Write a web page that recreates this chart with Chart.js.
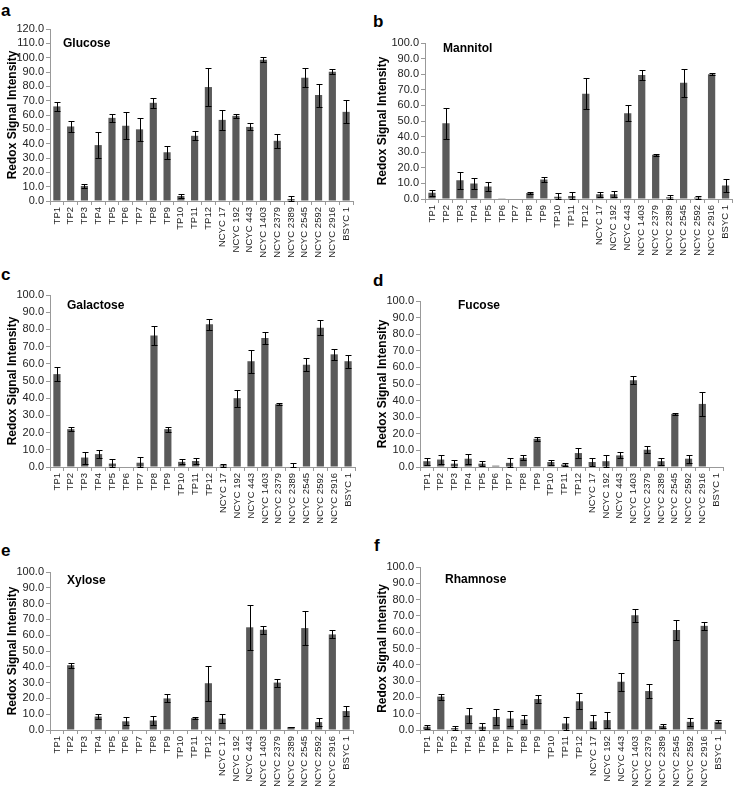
<!DOCTYPE html>
<html>
<head>
<meta charset="utf-8">
<script src="https://cdn.jsdelivr.net/npm/chart.js@4"></script>
<style>
  body { margin: 0; background: #fff; }
  #fig { position: relative; width: 739px; height: 788px; font-family: 'Liberation Sans', Arial, sans-serif; }
  .panel { position: absolute; }
  .letter { position: absolute; font-weight: bold; font-size: 17px; line-height: 17px; color: #000; }
</style>
</head>
<body>
<div id="fig">
  <div class="letter" style="left:1px;top:2px">a</div>
  <div class="letter" style="left:373px;top:13px">b</div>
  <div class="letter" style="left:1px;top:266px">c</div>
  <div class="letter" style="left:373px;top:272px">d</div>
  <div class="letter" style="left:1px;top:542px">e</div>
  <div class="letter" style="left:374px;top:537px">f</div>
  <div class="panel" style="left:0;top:0;width:362px;height:262px"><canvas id="glucoseChart"></canvas></div>
  <div class="panel" style="left:370px;top:0;width:369px;height:262px"><canvas id="mannitolChart"></canvas></div>
  <div class="panel" style="left:0;top:262px;width:362px;height:262px"><canvas id="galactoseChart"></canvas></div>
  <div class="panel" style="left:370px;top:262px;width:369px;height:262px"><canvas id="fucoseChart"></canvas></div>
  <div class="panel" style="left:0;top:524px;width:362px;height:264px"><canvas id="xyloseChart"></canvas></div>
  <div class="panel" style="left:370px;top:524px;width:369px;height:264px"><canvas id="rhamnoseChart"></canvas></div>
</div>
<script>
// strains on the x axis
const categories = ['TP1', 'TP2', 'TP3', 'TP4', 'TP5', 'TP6', 'TP7', 'TP8', 'TP9', 'TP10', 'TP11', 'TP12',
  'NCYC 17', 'NCYC 192', 'NCYC 443', 'NCYC 1403', 'NCYC 2379', 'NCYC 2389', 'NCYC 2545', 'NCYC 2592', 'NCYC 2916', 'BSYC 1'];

// redox signal intensity (mean) and error for each sugar
const glucose = [66, 52, 10.5, 39, 58, 52.5, 50, 68.5, 34, 3.5, 45.5, 79.5, 56.6, 59.4, 51.7, 98.6, 42, 1.4, 86, 73.9, 90.2, 62.2];
const glucoseErr = [3, 4, 1.5, 9, 3, 9.5, 8, 3.5, 4.5, 1.5, 3, 13, 7, 1.6, 2.5, 1.6, 5, 2, 6.5, 8, 1.6, 8];

const mannitol = [4, 48.5, 12, 10, 8, 0.5, 0, 3.8, 12.5, 1.5, 2, 67.5, 3, 3, 55, 79.5, 28.3, 1.2, 74.5, 1, 80, 8.7];
const mannitolErr = [2, 10, 5.5, 3.5, 3, 0, 0, 0.8, 1.5, 2.5, 2.5, 10, 1.5, 2, 5, 3, 0.5, 1.5, 9, 1, 0.8, 4];

const galactose = [54, 22, 5.5, 7.5, 2, 0, 2.5, 76.5, 22, 3, 3.5, 83, 1, 40, 61.5, 75, 36.5, 0.3, 59.5, 81, 65.5, 61.5];
const galactoseErr = [4, 1.2, 3.5, 2.5, 2.5, 0, 3.5, 5.5, 1.5, 1.5, 1.8, 3.3, 1, 5, 6.8, 3.5, 0.5, 1.8, 3.9, 4.5, 3, 3.7];

const fucose = [3.5, 4.5, 2, 5, 2, 0.8, 2.5, 5.5, 17, 3, 1.5, 8.4, 3, 3.5, 7, 52.2, 10.4, 3.5, 32, 5, 38, 0];
const fucoseErr = [2, 2.5, 2.5, 3, 1.5, 0, 3, 1.5, 1.2, 1.5, 1, 3, 2.5, 3.5, 1.8, 2.4, 2, 2, 0.4, 2.5, 7, 0];

const xylose = [0, 41, 0.3, 8.5, 0, 5.5, 0, 6, 20, 0.3, 7.5, 29.6, 7.2, 0, 65, 63.5, 30, 1.9, 64.5, 5, 60.5, 12];
const xyloseErr = [0, 1.5, 0, 1.5, 0, 2.5, 0, 3, 2.5, 0, 0.5, 11, 3, 0, 14.4, 2.5, 2.5, 0.2, 11, 2.5, 2.5, 3];

const rhamnose = [2, 20.5, 1.2, 9, 2, 8, 7, 6.5, 19, 0, 4, 17.6, 5.3, 6.1, 29.6, 70.4, 23.9, 2.5, 61.4, 5, 63.9, 5];
const rhamnoseErr = [1.2, 1.8, 1, 4.5, 2, 5, 4.5, 3, 2.5, 0, 4, 5, 4, 4.7, 5.5, 4, 4.3, 1, 6, 2.5, 2.5, 1];

Chart.defaults.font.family = "'Liberation Sans', Arial, sans-serif";
Chart.defaults.color = '#222';

// error bars drawn with the chart's own scales
const errorBars = {
  id: 'errorBars',
  afterDatasetsDraw(chart, args, opts) {
    const ctx = chart.ctx;
    const x = chart.scales.x, y = chart.scales.y;
    const vals = chart.data.datasets[0].data;
    ctx.save();
    ctx.strokeStyle = '#000';
    ctx.lineWidth = 1;
    opts.errors.forEach(function (e, i) {
      if (!e) return;
      const px = Math.round(x.getPixelForValue(i)) + 0.5;
      const top = Math.round(y.getPixelForValue(vals[i] + e)) + 0.5;
      const bot = Math.round(y.getPixelForValue(Math.max(vals[i] - e, 0))) + 0.5;
      ctx.beginPath();
      ctx.moveTo(px, top); ctx.lineTo(px, bot);
      ctx.moveTo(px - 3, top); ctx.lineTo(px + 3, top);
      ctx.moveTo(px - 3, bot); ctx.lineTo(px + 3, bot);
      ctx.stroke();
    });
    ctx.restore();
  }
};

// sugar name inside the plot area
const innerTitle = {
  id: 'innerTitle',
  afterDraw(chart, args, opts) {
    const ctx = chart.ctx;
    ctx.save();
    ctx.font = "bold 12px 'Liberation Sans', Arial, sans-serif";
    ctx.fillStyle = '#000';
    ctx.textBaseline = 'middle';
    ctx.fillText(opts.text, chart.chartArea.left + opts.dx, chart.chartArea.top + opts.dy);
    ctx.restore();
  }
};

function makePanel(id, name, values, errors, max, box) {
  return new Chart(document.getElementById(id), {
    type: 'bar',
    data: {
      labels: categories,
      datasets: [{
        data: values,
        backgroundColor: '#5a5a5a',
        borderWidth: 0,
        barPercentage: 0.52,
        categoryPercentage: 1
      }]
    },
    plugins: [errorBars, innerTitle],
    options: {
      responsive: true,
      maintainAspectRatio: false,
      animation: false,
      layout: { padding: { top: box.padTop, right: box.padRight, left: 0, bottom: 0 } },
      plugins: {
        legend: { display: false },
        tooltip: { enabled: false },
        errorBars: { errors: errors },
        innerTitle: { text: name, dx: box.dx, dy: box.dy }
      },
      scales: {
        x: {
          afterFit: function (s) { s.height = box.xHeight; },
          grid: { display: true, drawOnChartArea: false, offset: true, tickLength: 4, color: '#999' },
          border: { color: '#999' },
          ticks: { autoSkip: false, minRotation: 90, maxRotation: 90, padding: 2, font: { size: 9.5 }, color: '#222' }
        },
        y: {
          min: 0,
          max: max,
          afterFit: function (s) { s.width = box.yWidth; },
          grid: { display: true, drawOnChartArea: false, tickLength: 4, color: '#999' },
          border: { color: '#999' },
          ticks: {
            stepSize: 10,
            autoSkip: false,
            padding: 2,
            font: { size: 11 },
            color: '#222',
            callback: function (v) { return Number(v).toFixed(1); }
          },
          title: {
            display: true,
            text: 'Redox Signal Intensity',
            font: { size: 12, weight: 'bold' },
            color: '#000',
            padding: { top: 5, bottom: 0 }
          }
        }
      }
    }
  });
}

makePanel('glucoseChart', 'Glucose', glucose, glucoseErr, 120,
  { yWidth: 50, padTop: 29, padRight: 9, xHeight: 61, dx: 13, dy: 15 });
makePanel('mannitolChart', 'Mannitol', mannitol, mannitolErr, 100,
  { yWidth: 55, padTop: 43, padRight: 1, xHeight: 63, dx: 18, dy: 6 });
makePanel('galactoseChart', 'Galactose', galactose, galactoseErr, 100,
  { yWidth: 50, padTop: 33, padRight: 7, xHeight: 57, dx: 17, dy: 11 });
makePanel('fucoseChart', 'Fucose', fucose, fucoseErr, 100,
  { yWidth: 50, padTop: 39, padRight: 16, xHeight: 57, dx: 38, dy: 5 });
makePanel('xyloseChart', 'Xylose', xylose, xyloseErr, 100,
  { yWidth: 50, padTop: 48, padRight: 9, xHeight: 58, dx: 17, dy: 9 });
makePanel('rhamnoseChart', 'Rhamnose', rhamnose, rhamnoseErr, 100,
  { yWidth: 50, padTop: 43, padRight: 14, xHeight: 58, dx: 25, dy: 13 });
</script>
</body>
</html>
